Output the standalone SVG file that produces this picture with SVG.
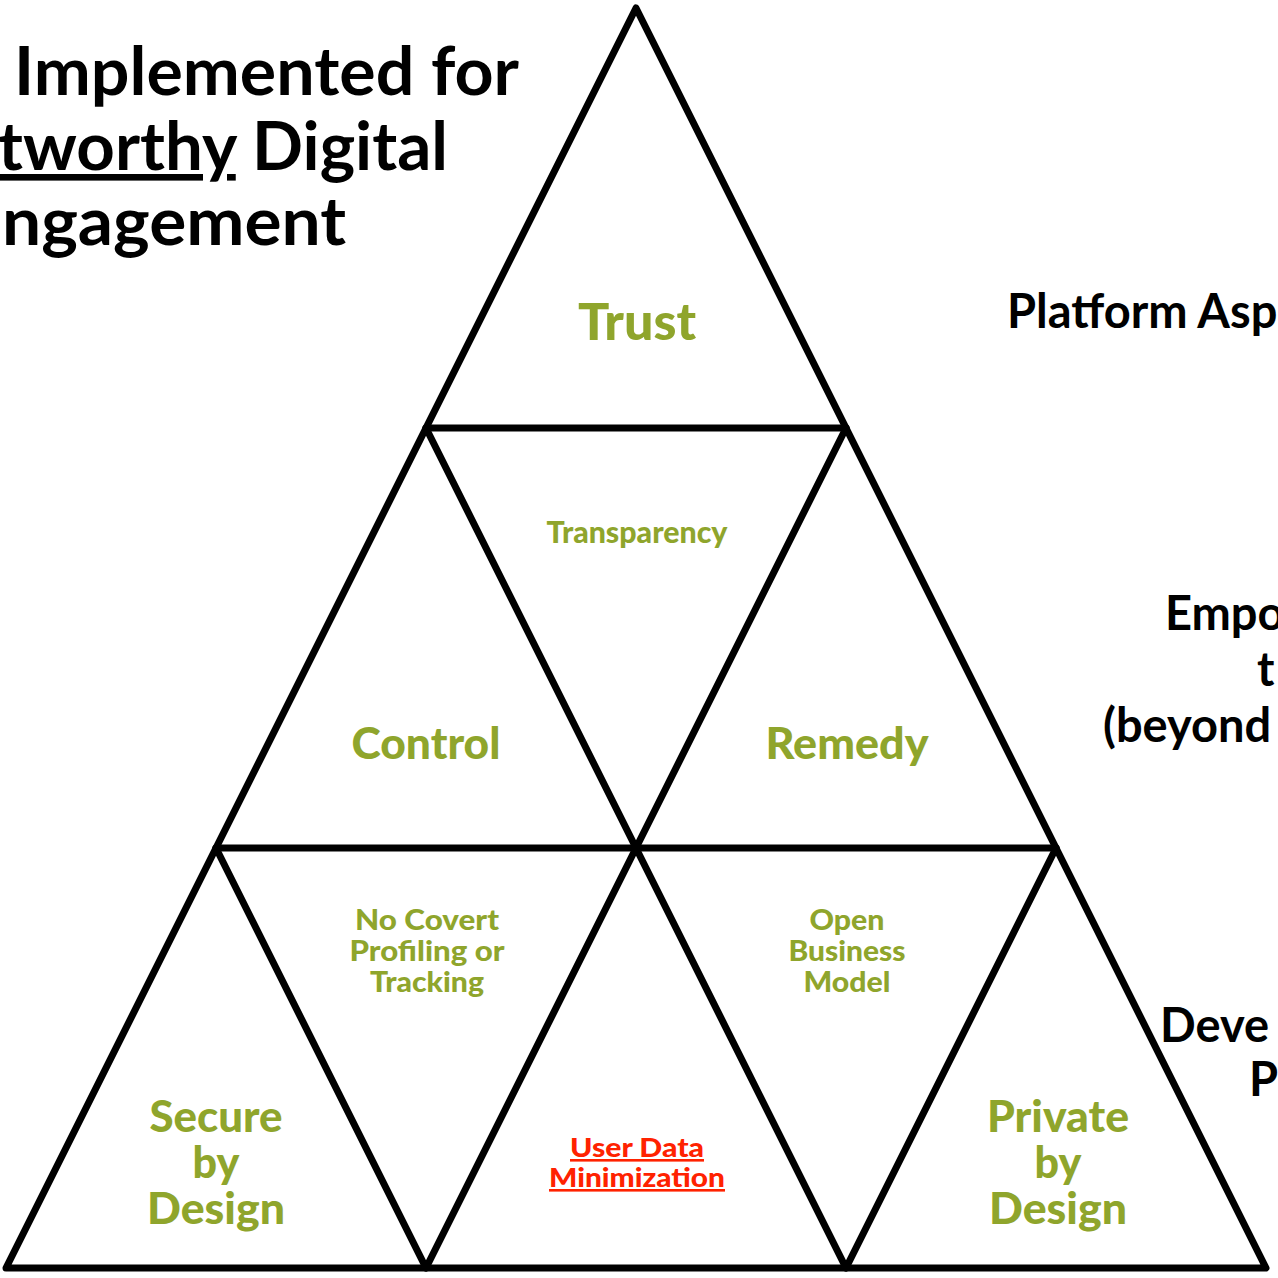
<svg xmlns="http://www.w3.org/2000/svg" width="1278" height="1278" viewBox="0 0 1278 1278">
<style>
.edge{fill:none;stroke:#000;stroke-width:7;stroke-linejoin:round;stroke-linecap:round}
.blk{font-family:Lato,"Noto Sans",sans-serif;font-weight:700;fill:#000}
.grn{font-family:Lato,"Noto Sans",sans-serif;font-weight:900;fill:#8fa52c;text-anchor:middle}
.red{font-family:Lato,"Noto Sans",sans-serif;font-weight:900;fill:#ff2200;text-anchor:middle;text-decoration:underline}
</style>
<rect width="1278" height="1278" fill="#fff"/>
<g id="connectors">
<path class="edge" d="M636 8 L1266 1268 L6 1268 Z"/>
<path class="edge" d="M426 428 H846 M216 848 H1056"/>
<path class="edge" d="M426 428 L636 848 L846 428"/>
<path class="edge" d="M216 848 L426 1268 L636 848 L846 1268 L1056 848"/>
</g>
<g id="title">
<text class="blk" font-size="66" x="14" y="95" textLength="505" lengthAdjust="spacingAndGlyphs">Implemented for</text>
<text class="blk" font-size="66" x="-2" y="170" textLength="450" lengthAdjust="spacingAndGlyphs"><tspan text-decoration="underline">tworthy</tspan> Digital</text>
<text class="blk" font-size="66" x="2" y="245" textLength="344" lengthAdjust="spacingAndGlyphs">ngagement</text>
</g>
<g id="side-labels">
<text class="blk" font-size="47" x="1007" y="328">Platform Asp</text>
<text class="blk" font-size="47" x="1165" y="630">Empo</text>
<text class="blk" font-size="47" x="1257" y="686">t</text>
<text class="blk" font-size="47" x="1103" y="742">(beyond</text>
<text class="blk" font-size="47" x="1160" y="1042">Deve</text>
<text class="blk" font-size="47" x="1249" y="1096">P</text>
</g>
<g id="node-trust"><text class="grn" font-size="52" x="637" y="340">Trust</text></g>
<g id="node-transparency"><text class="grn" font-size="30" x="637" y="543" textLength="181" lengthAdjust="spacingAndGlyphs">Transparency</text></g>
<g id="node-control"><text class="grn" font-size="44" x="426" y="759" textLength="149" lengthAdjust="spacingAndGlyphs">Control</text></g>
<g id="node-remedy"><text class="grn" font-size="44" x="847" y="759" textLength="163" lengthAdjust="spacingAndGlyphs">Remedy</text></g>
<g id="node-covert"><text class="grn" font-size="28" x="427" y="930" textLength="144" lengthAdjust="spacingAndGlyphs">No Covert</text><text class="grn" font-size="28" x="427" y="961" textLength="155" lengthAdjust="spacingAndGlyphs">Profiling or</text><text class="grn" font-size="28" x="427" y="992" textLength="114" lengthAdjust="spacingAndGlyphs">Tracking</text></g>
<g id="node-open"><text class="grn" font-size="28" x="847" y="930" textLength="75" lengthAdjust="spacingAndGlyphs">Open</text><text class="grn" font-size="28" x="847" y="961" textLength="117" lengthAdjust="spacingAndGlyphs">Business</text><text class="grn" font-size="28" x="847" y="992" textLength="87" lengthAdjust="spacingAndGlyphs">Model</text></g>
<g id="node-secure"><text class="grn" font-size="43" x="216"><tspan x="216" y="1132" textLength="133" lengthAdjust="spacingAndGlyphs">Secure</tspan><tspan x="216" y="1178">by</tspan><tspan x="216" y="1224" textLength="138" lengthAdjust="spacingAndGlyphs">Design</tspan></text></g>
<g id="node-private"><text class="grn" font-size="43" x="1058"><tspan x="1058" y="1132" textLength="142" lengthAdjust="spacingAndGlyphs">Private</tspan><tspan x="1058" y="1178">by</tspan><tspan x="1058" y="1224" textLength="138" lengthAdjust="spacingAndGlyphs">Design</tspan></text></g>
<g id="node-minimization"><text class="red" font-size="26" x="637" y="1157" textLength="134" lengthAdjust="spacingAndGlyphs">User Data</text><text class="red" font-size="26" x="637" y="1187" textLength="176" lengthAdjust="spacingAndGlyphs">Minimization</text></g>
</svg>
